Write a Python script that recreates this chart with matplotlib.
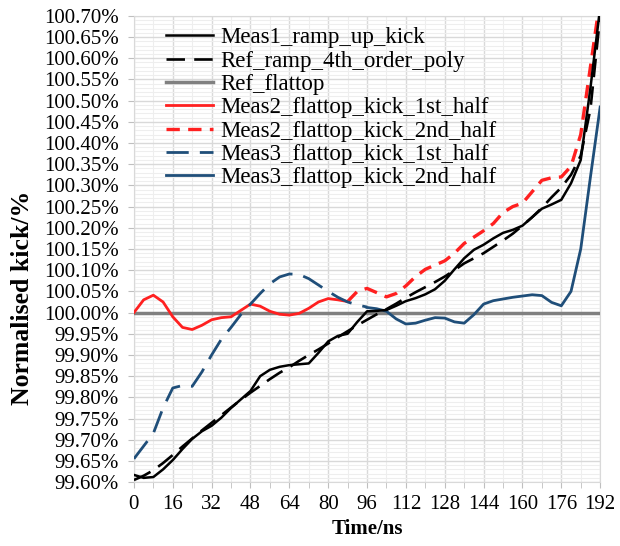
import numpy as np
import matplotlib
matplotlib.use('Agg')
from matplotlib import pyplot as plt
import matplotlib.ticker as mtick

matplotlib.rcParams.update({'font.family': 'Liberation Serif', 'font.size': 15})

# time axis (ns) for each series and normalised kick (%)
t_meas1 = [0, 4, 8, 12, 16, 20, 24, 28, 32, 36, 40, 44, 48, 52, 56, 60, 64, 68, 72, 76, 80, 84, 88, 92, 96,
           100, 104, 108, 112, 116, 120, 124, 128, 132, 136, 140, 144, 148, 152, 156, 160, 164, 168, 172,
           176, 180, 184, 188, 192]
meas1 = [99.617, 99.610, 99.612, 99.630, 99.652, 99.678, 99.702, 99.720, 99.733, 99.752, 99.775, 99.795,
         99.815, 99.850, 99.865, 99.872, 99.876, 99.878, 99.880, 99.905, 99.932, 99.945, 99.950, 99.978,
         100.003, 100.004, 100.006, 100.016, 100.027, 100.034, 100.043, 100.055, 100.075, 100.102, 100.128,
         100.148, 100.160, 100.175, 100.188, 100.195, 100.205, 100.225, 100.245, 100.255, 100.266, 100.305,
         100.360, 100.530, 100.720]

t_ref = t_meas1
ref_ramp = [99.605, 99.615, 99.628, 99.645, 99.664, 99.684, 99.703, 99.722, 99.740, 99.758, 99.776, 99.794,
            99.811, 99.827, 99.843, 99.858, 99.871, 99.886, 99.900, 99.913, 99.927, 99.942, 99.956, 99.970,
            99.983, 99.996, 100.008, 100.021, 100.035, 100.048, 100.060, 100.072, 100.085, 100.100, 100.116,
            100.128, 100.140, 100.155, 100.170, 100.186, 100.205, 100.225, 100.247, 100.272, 100.295, 100.325,
            100.370, 100.480, 100.700]

t_flat = [0, 192]
ref_flat = [100.0, 100.0]

t_m2a = [0, 4, 8, 12, 16, 20, 24, 28, 32, 36, 40, 44, 48, 52, 56, 60, 64, 68, 72, 76, 80, 84, 88]
meas2_1st = [100.000, 100.030, 100.041, 100.025, 99.990, 99.965, 99.960, 99.970, 99.983, 99.988, 99.990,
             100.005, 100.020, 100.015, 100.003, 99.996, 99.994, 99.998, 100.010, 100.025, 100.033, 100.030,
             100.026]

t_m2b = [88, 92, 96, 100, 104, 108, 112, 116, 120, 124, 128, 132, 136, 140, 144, 148, 152, 156, 160, 164,
         168, 172, 176, 180, 184, 188, 192]
meas2_2nd = [100.026, 100.050, 100.057, 100.047, 100.037, 100.045, 100.063, 100.085, 100.102, 100.112,
             100.122, 100.140, 100.163, 100.178, 100.193, 100.210, 100.236, 100.250, 100.258, 100.285,
             100.312, 100.318, 100.320, 100.345, 100.420, 100.580, 100.740]

t_m3a = [0, 4, 8, 12, 16, 20, 24, 28, 32, 36, 40, 44, 48, 52, 56, 60, 64, 68, 72, 76, 80, 84, 88, 92, 96]
meas3_1st = [99.655, 99.685, 99.715, 99.775, 99.822, 99.828, 99.826, 99.860, 99.900, 99.937, 99.965, 99.995,
             100.020, 100.045, 100.068, 100.084, 100.091, 100.090, 100.080, 100.065, 100.050, 100.036, 100.025,
             100.018, 100.013]

t_m3b = [96, 100, 104, 108, 112, 116, 120, 124, 128, 132, 136, 140, 144, 148, 152, 156, 160, 164, 168, 172,
         176, 180, 184, 188, 192]
meas3_2nd = [100.012, 100.009, 100.003, 99.985, 99.973, 99.975, 99.982, 99.988, 99.987, 99.978, 99.975,
             99.995, 100.020, 100.028, 100.032, 100.036, 100.039, 100.042, 100.040, 100.024, 100.016, 100.050,
             100.150, 100.320, 100.485]

fig = plt.figure(figsize=(6.2, 5.46), dpi=100)
ax = fig.add_axes([0.216, 0.117, 0.752, 0.854])

blue = '#1f4e79'
red = '#ff2020'
ax.plot(t_meas1, meas1, c='k', lw=1.8, label='Meas1_ramp_up_kick', zorder=5)
ax.plot(t_ref, ref_ramp, c='k', lw=1.9, dashes=(7, 3.5), label='Ref_ramp_4th_order_poly', zorder=5)
ax.plot(t_flat, ref_flat, c='#808080', lw=2.5, label='Ref_flattop', zorder=3)
ax.plot(t_m2a, meas2_1st, c=red, lw=2.0, label='Meas2_flattop_kick_1st_half', zorder=4)
ax.plot(t_m2b, meas2_2nd, c=red, lw=2.4, dashes=(4, 2.5), label='Meas2_flattop_kick_2nd_half', zorder=4)
ax.plot(t_m3a, meas3_1st, c=blue, lw=2.0, dashes=(8, 4), label='Meas3_flattop_kick_1st_half', zorder=4)
ax.plot(t_m3b, meas3_2nd, c=blue, lw=2.0, label='Meas3_flattop_kick_2nd_half', zorder=4)

ax.set_xlim(0, 192)
ax.set_ylim(99.6, 100.7)
ax.set_xticks(np.arange(0, 193, 16))
ax.set_xticks(np.arange(0, 193, 8), minor=True)
ax.set_yticks(np.arange(99.6, 100.701, 0.05))
ax.set_yticks(np.arange(99.6, 100.701, 0.01), minor=True)
ax.yaxis.set_major_formatter(mtick.PercentFormatter(xmax=100, decimals=2))

ax.grid(which='major', color='#d9d9d9', lw=1.0)
ax.grid(which='minor', color='#eeeeee', lw=0.8)
ax.set_axisbelow(True)
for s in ax.spines.values():
    s.set_color('#d9d9d9')
ax.tick_params(which='both', color='#bfbfbf', length=4, labelsize=15)
ax.tick_params(axis='y', which='minor', length=0)
ax.tick_params(axis='y', pad=7)
ax.tick_params(axis='x', pad=5)

ax.set_xlabel('Time/ns', fontweight='bold', fontsize=15)
ax.xaxis.set_label_coords(0.5, -0.08)
ax.set_ylabel('Normalised kick/%', fontweight='bold', fontsize=18.5)
ax.yaxis.set_label_coords(-0.215, 0.395)

ax.legend(loc='upper left', bbox_to_anchor=(0.04, 1.005), frameon=False, fontsize=16.5,
          labelspacing=0.1, handlelength=2.05, handletextpad=0.3, borderaxespad=0.2)

plt.savefig('out.png')
